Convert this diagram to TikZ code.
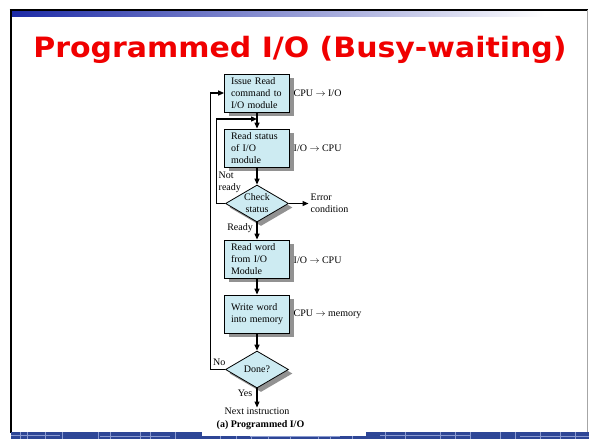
\documentclass[tikz,border=0pt]{standalone}
\usepackage{fontspec}
\setmainfont{Liberation Serif}
\newfontfamily\titlefont{DejaVu Sans}
\usetikzlibrary{arrows.meta,shapes.geometric,shadows}
\definecolor{boxfill}{HTML}{CDEBF2}
\definecolor{shadowgray}{HTML}{929292}
\definecolor{titlered}{HTML}{F00000}
\definecolor{barblue}{HTML}{2E4696}
\definecolor{barline}{HTML}{8A9AD0}
\definecolor{gradblue}{HTML}{1C2AA6}
\newcommand\mynohyph{\hyphenpenalty=10000\relax\exhyphenpenalty=10000\relax\hbadness=10000\relax\hfuzz=20pt\relax}
\tikzset{
  flow/.style={draw=black, line width=0.8pt, fill=boxfill,
    drop shadow={shadow xshift=4pt, shadow yshift=-4pt, opacity=1, fill=shadowgray}},
  stepbox/.style={flow, rectangle, minimum width=64pt, minimum height=38pt,
    text width=52pt, inner xsep=6.5pt, align=left,
    font=\fontsize{10}{12}\selectfont\mynohyph},
  decision/.style={flow, diamond, aspect=1.7, inner sep=0pt,
    minimum width=63pt, minimum height=37pt, align=center,
    font=\fontsize{10}{12}\selectfont},
  lbl/.style={inner sep=0pt, font=\fontsize{10}{12}\selectfont, align=left},
  conn/.style={line width=1.2pt, -{Triangle[length=6pt,width=5pt]}},
}
\begin{document}
\begin{tikzpicture}[x=1pt,y=-1pt]
\useasboundingbox (0,0) rectangle (589,439);
% slide frame
\fill[white] (0,0) rectangle (589,439);
\shade[left color=gradblue, right color=white] (11,11) rectangle (545,16.5);
\draw[line width=2pt, black] (9.5,10) -- (588,10);
\draw[line width=2pt, black] (10.5,9) -- (10.5,433);
\draw[line width=0.8pt, gray!70] (587,10) -- (587,433);
% bottom bar
\fill[barblue] (11,432) rectangle (589,439);
\foreach \xx in {20,27,45,62,98,110,140,150,175,220,236,251,268,290,318,330,352,385,405,440,455,470,500,515,540,560,575}
  \draw[barline, line width=0.6pt] (\xx,432) -- (\xx,439);
\draw[barline, line width=0.6pt] (11,435.5) -- (60,435.5) (100,436) -- (170,436) (250,436.5) -- (340,436.5) (380,435) -- (470,435) (520,436) -- (589,436);
\fill[white] (202,430) rectangle (366,436);
% title
\node[anchor=base, text=titlered, inner sep=0pt,
  font=\titlefont\bfseries\fontsize{28}{32}\selectfont] (title) at (300,57)
  {\scalebox{1.07}[1]{Programmed I/O (Busy-waiting)}};
% flowchart nodes
\node[stepbox] (b1) at (257,93) {Issue~Read\\command~to\\I/O~module};
\node[stepbox] (b2) at (257,148) {Read~status\\of~I/O\\module};
\node[decision] (d1) at (257,203.5) {Check\\status};
\node[stepbox] (b3) at (257,259) {Read~word\\from~I/O\\Module};
\node[stepbox] (b4) at (257,314) {Write~word\\into~memory};
\node[decision] (d2) at (257,369.5) {Done?};
% labels
\node[lbl, anchor=west] (l1) at (293.5,93) {CPU $\rightarrow$ I/O};
\node[lbl, anchor=west] (l2) at (293.5,148) {I/O $\rightarrow$ CPU};
\node[lbl, anchor=west] (l3) at (293.5,260.5) {I/O $\rightarrow$ CPU};
\node[lbl, anchor=west] (l4) at (293.5,314) {CPU $\rightarrow$ memory};
\node[lbl, anchor=west] (err) at (310.5,203.5) {Error\\condition};
\node[lbl, anchor=north west] (nr) at (218.5,171.5) {Not\\ready};
\node[lbl, anchor=east] (rd) at (253,228) {Ready};
\node[lbl, anchor=west] (no) at (213,362) {No};
\node[lbl, anchor=east] (yes) at (252.5,393) {Yes};
\node[lbl, anchor=north] (next) at (257,407.5) {Next instruction};
\node[lbl, anchor=center, font=\bfseries\fontsize{10}{12}\selectfont] (cap) at (260.5,425) {(a) Programmed I/O};
% connector corners
\coordinate (j1) at (257,119);
\coordinate (c1) at (216.5,203.5);
\coordinate (c2) at (216.5,119);
\coordinate (c3) at (210.5,369.5);
\coordinate (c4) at (210.5,93);
% connectors
\draw[conn] (b1) -- (b2);
\draw[conn] (b2) -- (d1);
\draw[conn] (d1) -- (b3);
\draw[conn] (b3) -- (b4);
\draw[conn] (b4) -- (d2);
\draw[conn] (d2) -- (next);
\draw[conn, shorten >=2pt] (d1.east) -- (err.west);
\draw[conn] (d1.west) -- (c1) -- (c2) -- (j1);
\draw[conn] (d2.west) -- (c3) -- (c4) -- (b1.west);
\end{tikzpicture}
\end{document}
